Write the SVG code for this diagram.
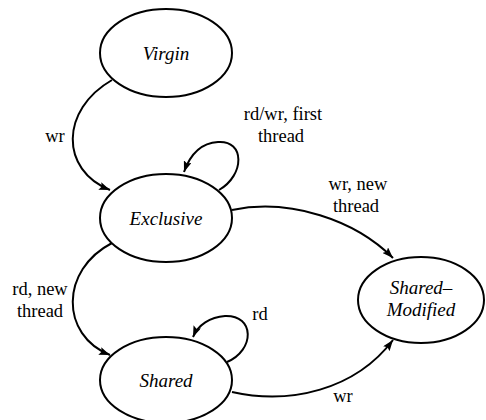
<svg xmlns="http://www.w3.org/2000/svg" width="486" height="420" viewBox="0 0 486 420">
<defs>
<style>
.node{fill:#fff;stroke:#000;stroke-width:2}
.edge{fill:none;stroke:#000;stroke-width:2;marker-end:url(#arr)}
.nt{font-family:"Liberation Serif","Times New Roman",serif;font-style:italic;font-size:19px;text-anchor:middle;fill:#000}
.lt{font-family:"Liberation Serif","Times New Roman",serif;font-size:18.5px;text-anchor:middle;fill:#000}
</style>
<marker id="arr" markerUnits="userSpaceOnUse" markerWidth="12" markerHeight="8" refX="11" refY="4" orient="auto">
<path d="M0,0 L11,4 L0,8 L2,4 z" fill="#000"/>
</marker>
</defs>
<rect width="486" height="420" fill="#fff"/>
<g id="connectors">
<path class="edge" d="M112,80 C60,110 60,170 110,190"/>
<path class="edge" d="M219,190 C245,175 245,140 218,142 C200,143 190,155 184,172"/>
<path class="edge" d="M232,210 C290,198 355,220 393,258"/>
<path class="edge" d="M112,243 C60,270 60,335 110,355"/>
<path class="edge" d="M227,362 C255,350 255,315 225,316 C210,317 198,325 193,337"/>
<path class="edge" d="M232,392 C290,405 355,390 393,340"/>
<text class="lt" x="55" y="142">wr</text>
<text class="lt" x="283" y="120">rd/wr, first</text>
<text class="lt" x="281" y="142">thread</text>
<text class="lt" x="358" y="190">wr, new</text>
<text class="lt" x="356" y="212">thread</text>
<text class="lt" x="40" y="295">rd, new</text>
<text class="lt" x="40" y="317">thread</text>
<text class="lt" x="260" y="320">rd</text>
<text class="lt" x="343" y="402">wr</text>
</g>
<g id="virgin">
<ellipse class="node" cx="166" cy="53" rx="66" ry="44"/>
<text class="nt" x="166" y="60">Virgin</text>
</g>
<g id="exclusive">
<ellipse class="node" cx="166" cy="218" rx="66" ry="44"/>
<text class="nt" x="166" y="225">Exclusive</text>
</g>
<g id="shared">
<ellipse class="node" cx="166" cy="380" rx="66" ry="43"/>
<text class="nt" x="166" y="387">Shared</text>
</g>
<g id="shared-modified">
<ellipse class="node" cx="421" cy="300" rx="63" ry="43"/>
<text class="nt" x="421" y="294">Shared–</text>
<text class="nt" x="421" y="316">Modified</text>
</g>
</svg>
